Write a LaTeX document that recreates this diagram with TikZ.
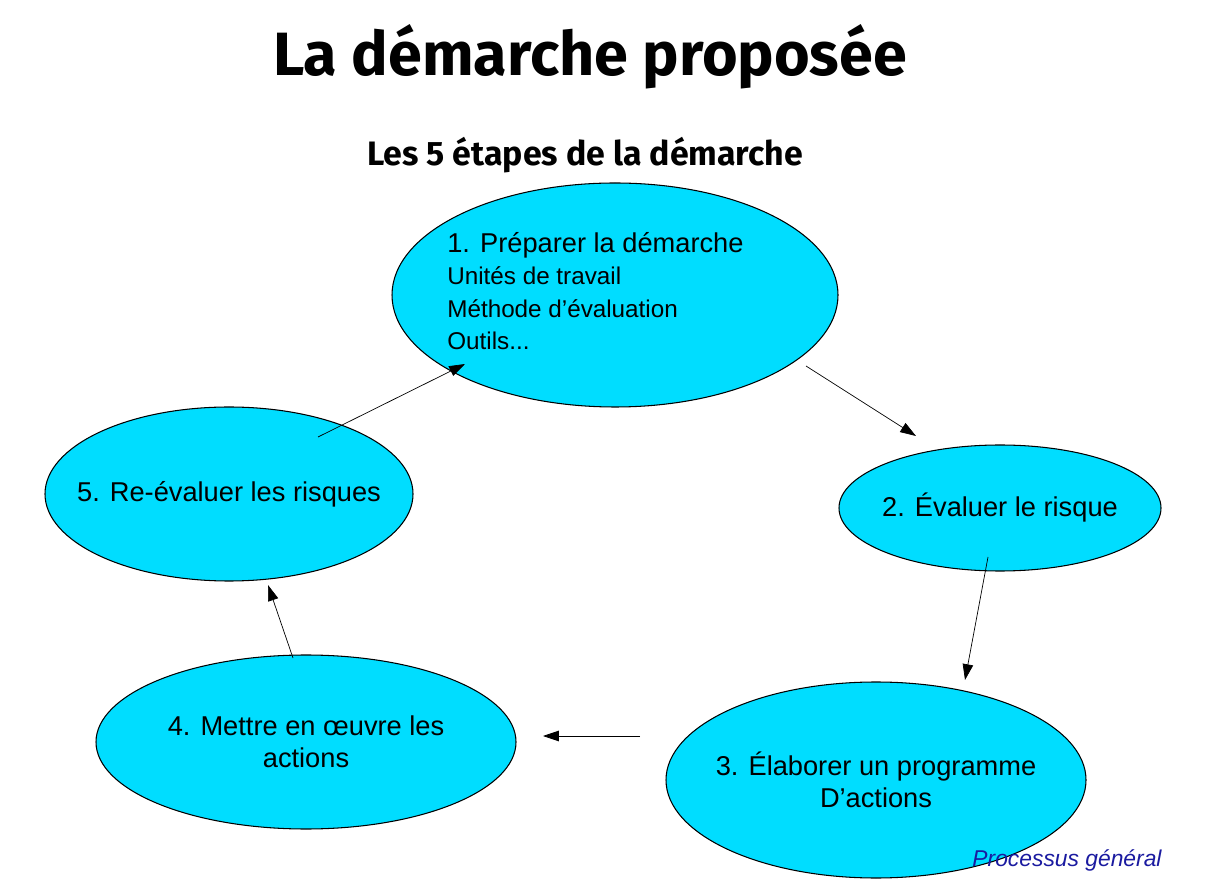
\documentclass[tikz,border=0pt]{standalone}
\usepackage{fontspec}
\setmainfont{Liberation Sans}
\newfontfamily\titlefont{Fira Sans}
\usetikzlibrary{arrows.meta}
\definecolor{cyanfill}{HTML}{00DDFF}
\definecolor{procblue}{HTML}{1A1AA0}
\begin{document}
\begin{tikzpicture}[x=0.02cm,y=-0.02cm,
  stage/.style={draw=black,fill=cyanfill,line width=0.6pt},
  lbl/.style={font=\fontsize{15.5}{18}\selectfont,align=center},
  conn/.style={-{Triangle[length=9pt,width=6pt]},line width=0.4pt}]
\useasboundingbox (0,0) rectangle (1210,884);
\fill[white] (0,0) rectangle (1210,884);
\node (title) at (590,57) {\resizebox{12.68cm}{!}{\titlefont\bfseries La démarche proposée}};
\node (sub) at (585,155) {\resizebox{8.72cm}{!}{\titlefont\bfseries Les 5 étapes de la démarche}};
\draw[stage] (615,295) ellipse [x radius=223,y radius=112];
\draw[stage] (1000,508) ellipse [x radius=161,y radius=63];
\draw[stage] (876,780) ellipse [x radius=210,y radius=98];
\draw[stage] (306,742) ellipse [x radius=210,y radius=87];
\draw[stage] (229,494) ellipse [x radius=184,y radius=87];
\node[anchor=north west,align=left,inner sep=0,font=\fontsize{13.8}{18.5}\selectfont] (t1) at (447,232) {\fontsize{15.5}{18}\selectfont 1. Préparer la démarche\\ Unités de travail\\ Méthode d'évaluation\\ Outils...};
\node[lbl] (t2) at (1000,508) {2. Évaluer le risque};
\node[lbl] (t3) at (876,780) {3. Élaborer un programme\\D'actions};
\node[lbl] (t4) at (306,742) {4. Mettre en œuvre les\\actions};
\node[lbl] (t5) at (229,494) {5. Re-évaluer les risques};
\node[font=\fontsize{13}{15}\selectfont\itshape,text=procblue] (proc) at (1067,860) {Processus général};
\coordinate (a1) at (806,366); \coordinate (b1) at (916,436);
\coordinate (a2) at (988,557); \coordinate (b2) at (965,680);
\coordinate (a3) at (640,736); \coordinate (b3) at (543,736);
\coordinate (a4) at (293,658); \coordinate (b4) at (268,585);
\coordinate (a5) at (318,437); \coordinate (b5) at (465,364);
\draw[conn] (a1) -- (b1);
\draw[conn] (a2) -- (b2);
\draw[conn] (a3) -- (b3);
\draw[conn] (a4) -- (b4);
\draw[conn] (a5) -- (b5);
\end{tikzpicture}
\end{document}
